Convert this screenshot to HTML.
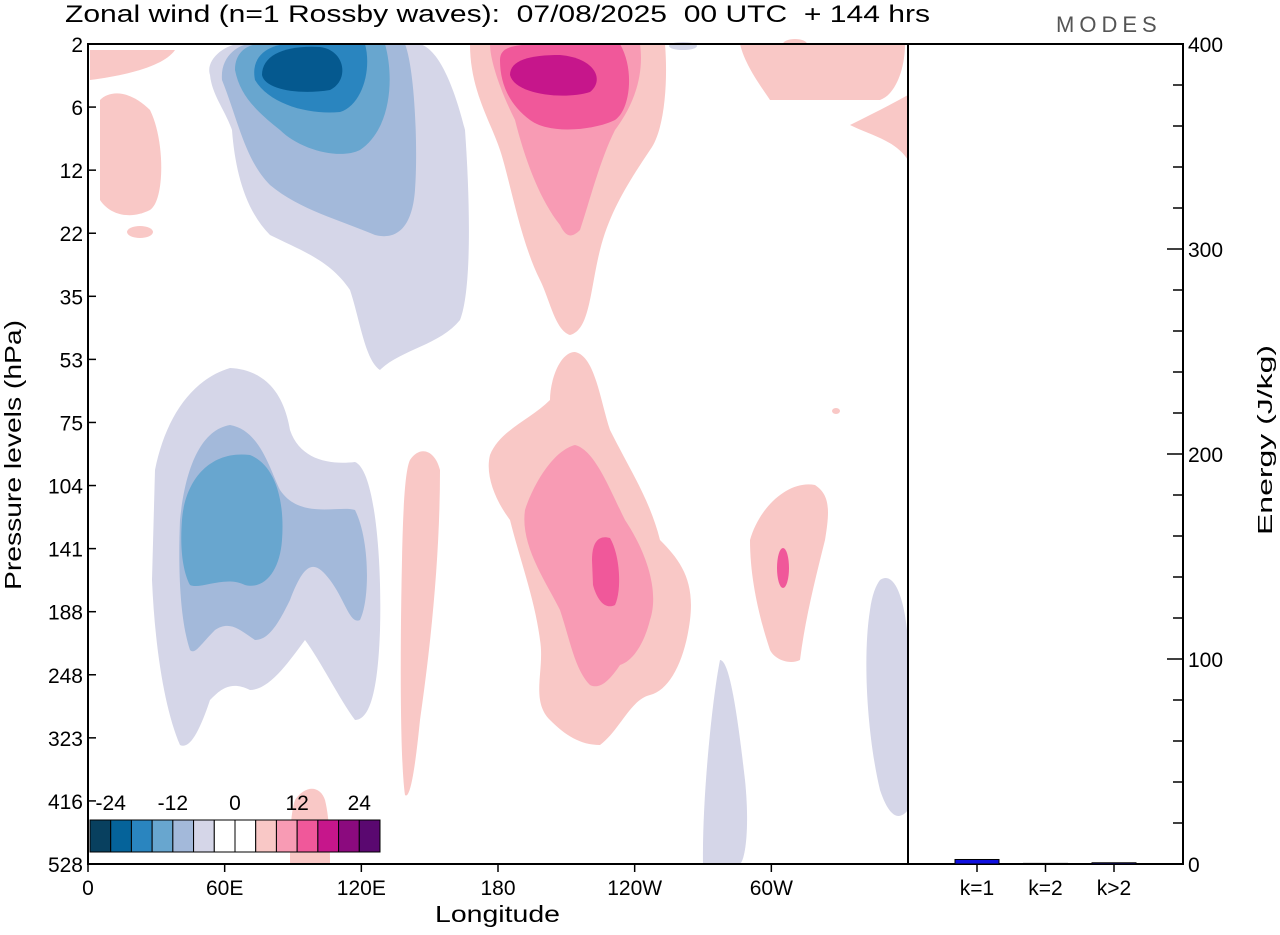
<!DOCTYPE html>
<html><head><meta charset="utf-8"><style>
body{margin:0;background:#fff;font-family:"Liberation Sans",sans-serif;}
svg text{font-family:"Liberation Sans",sans-serif;fill:#000;white-space:pre;}
</style></head><body>
<svg width="1280" height="930" viewBox="0 0 1280 930">
<text x="65" y="22" font-size="24" textLength="865" lengthAdjust="spacingAndGlyphs">Zonal wind (n=1 Rossby waves):  07/08/2025  00 UTC  + 144 hrs</text>
<text x="1056" y="32" font-size="22" style="fill:#555;letter-spacing:5px">MODES</text>
<g>
<path fill="#d5d6e8" d="M210,75 C205,60 225,44 240,44 L420,44 C440,50 455,90 465,130 C470,200 472,290 460,320 C440,345 400,350 380,370 C365,360 360,320 350,290 C330,260 300,250 270,235 C245,210 235,170 232,130 C225,110 212,95 210,75Z"/>
<path fill="#a3b9da" d="M222,80 C220,55 240,44 250,44 L405,44 C415,70 418,150 415,190 C412,230 395,240 375,235 C340,220 300,210 270,185 C245,160 238,120 222,80Z"/>
<path fill="#68a6cf" d="M235,70 C235,50 250,44 260,44 L385,44 C395,80 390,130 360,150 C340,160 300,150 280,130 C255,110 240,95 235,70Z"/>
<path fill="#2a85bf" d="M255,80 C250,55 270,44 290,44 L365,44 C372,70 362,105 340,112 C310,115 270,105 255,80Z"/>
<path fill="#05598f" d="M262,75 C262,55 285,45 320,47 C345,50 350,80 330,90 C300,95 265,90 262,75Z"/>
<path fill="#f9c8c6" d="M470,44 L665,44 C668,80 665,130 650,150 C630,180 610,210 600,250 C590,290 590,330 570,335 C555,330 550,300 540,280 C520,240 510,180 500,150 C490,120 470,90 470,44Z"/>
<path fill="#f89bb4" d="M490,44 L640,44 C645,80 630,110 615,130 C600,160 590,200 580,230 C570,240 565,235 560,225 C540,200 525,160 515,120 C500,90 490,60 490,44Z"/>
<path fill="#f0589a" d="M500,60 C500,44 520,44 560,44 L620,44 C635,70 630,110 615,120 C595,130 550,135 530,120 C510,105 500,85 500,60Z"/>
<path fill="#c6168b" d="M510,75 C510,60 530,55 560,55 C595,58 605,80 590,92 C565,100 515,95 510,75Z"/>
<path fill="#f9c8c6" d="M90,50 L175,50 C165,65 130,75 90,80Z"/>
<path fill="#f9c8c6" d="M100,100 C110,90 130,90 150,110 C165,140 165,200 150,210 C130,220 110,215 100,200Z"/>
<ellipse cx="140" cy="232" rx="13" ry="6" fill="#f9c8c6"/>
<path fill="#f9c8c6" d="M740,44 L905,44 C905,70 895,95 880,100 C850,100 800,100 770,100 C760,85 745,65 740,44Z"/>
<path fill="#f9c8c6" d="M850,125 C870,115 890,105 908,95 L908,160 C895,140 870,135 850,125Z"/>
<ellipse cx="795" cy="44" rx="12" ry="5" fill="#f9c8c6"/>
<ellipse cx="683" cy="46" rx="14" ry="4" fill="#d5d6e8"/>
<path fill="#d5d6e8" d="M155,470 C165,420 190,380 230,368 C270,370 285,400 290,430 C300,460 330,465 355,462 C375,470 382,560 380,630 C378,690 370,720 355,720 C340,700 320,660 305,640 C290,660 270,690 250,690 C230,680 220,690 210,700 C200,730 190,750 180,745 C165,710 155,650 152,580 Z"/>
<path fill="#a3b9da" d="M180,520 C185,470 200,430 230,425 C260,430 270,470 280,490 C300,520 340,505 355,510 C370,540 370,600 360,620 C350,625 345,600 330,580 C315,560 305,560 290,600 C280,620 270,640 255,640 C240,630 230,620 215,630 C200,645 195,655 190,650 C180,620 178,570 180,520Z"/>
<path fill="#68a6cf" d="M182,520 C185,480 210,450 250,455 C275,465 285,500 282,540 C280,570 265,590 245,585 C225,575 200,590 190,585 C182,570 180,545 182,520Z"/>
<path fill="#d5d6e8" d="M720,660 C730,660 738,720 745,780 C750,830 745,860 740,864 L703,864 C702,800 712,700 720,660Z"/>
<path fill="#d5d6e8" d="M880,580 C895,570 905,600 908,640 L908,810 C900,820 890,820 880,790 C868,740 862,660 870,610 C872,595 876,585 880,580Z"/>
<path fill="#f9c8c6" d="M410,460 C420,445 435,450 440,470 C440,560 430,650 420,720 C415,770 410,800 405,795 C400,760 400,650 402,560 C403,510 405,470 410,460Z"/>
<path fill="#f9c8c6" d="M490,455 C500,430 530,420 550,400 C550,380 560,352 575,352 C595,356 600,400 610,430 C630,470 650,500 660,540 C680,560 695,580 690,620 C685,660 670,690 650,695 C630,700 620,730 600,745 C580,745 565,735 550,720 C530,700 545,670 540,640 C535,600 520,560 510,520 C495,500 485,475 490,455Z"/>
<path fill="#f89bb4" d="M525,510 C535,480 555,450 575,445 C595,450 610,490 625,520 C645,550 660,590 650,620 C645,640 635,660 620,665 C610,680 600,690 590,685 C575,670 570,640 560,610 C545,580 520,545 525,510Z"/>
<path fill="#f0589a" d="M592,560 C592,540 600,535 610,538 C620,555 622,590 615,605 C605,610 597,600 593,585Z"/>
<path fill="#f9c8c6" d="M750,540 C760,505 790,480 815,485 C830,495 830,510 825,540 C815,580 805,620 800,660 C790,665 775,660 770,650 C760,620 750,580 750,540Z"/>
<ellipse cx="783" cy="568" rx="6" ry="20" fill="#f0589a"/>
<ellipse cx="836" cy="411" rx="4" ry="3" fill="#f9c8c6"/>
<path fill="#f9c8c6" d="M295,800 C305,785 320,785 325,800 C330,820 330,850 330,864 L290,864 C290,840 290,815 295,800Z"/>
</g>
<g id="colorbar"></g>
<g id="axes"></g>
<g id="bars"></g>
</svg>
<script>
const pressureLabels=["2","6","12","22","35","53","75","104","141","188","248","323","416","528"];
const lonLabels=["0","60E","120E","180","120W","60W"];
const barCategories=["k=1","k=2","k>2"];
const barValues=[2.2,0.3,0.6];
const energyTicks=[0,100,200,300,400];
const cbarColors=["#08405f","#05639a","#2a85bf","#68a6cf","#a3b9da","#d5d6e8","#ffffff","#ffffff","#f9c8c6","#f89bb4","#f0589a","#c6168b","#8b0a7e","#5a0870"];
const cbarLabels=["-24","-12","0","12","24"];
const NS="http://www.w3.org/2000/svg";
function mk(t,a,p,txt){const e=document.createElementNS(NS,t);for(const k in a)e.setAttribute(k,a[k]);if(txt!==undefined)e.textContent=txt;p.appendChild(e);return e;}
const ax=document.getElementById('axes');
const X0=88,X1=908,Y0=44,Y1=864;
const lonX=d=>X0+d*(X1-X0)/360;
const pY=i=>Y0+i*(Y1-Y0)/(pressureLabels.length-1);
const R0=908,R1=1183;
const eY=v=>Y1-v*(Y1-Y0)/400;
let r=mk('rect',{x:X0,y:Y0,width:X1-X0,height:Y1-Y0,fill:'none',stroke:'#000','stroke-width':2},ax);

r=mk('rect',{x:R0,y:Y0,width:R1-R0,height:Y1-Y0,fill:'none',stroke:'#000','stroke-width':2},ax);

pressureLabels.forEach((l,i)=>{const y=pY(i);
 mk('line',{x1:X0,x2:X0+8,y1:y,y2:y,stroke:'#000','stroke-width':1.5},ax);
 const t=mk('text',{x:X0-5,y:y+8,'font-size':21,'text-anchor':'end'},ax,l);
 });
lonLabels.forEach((l,i)=>{const x=lonX(i*60);
 mk('line',{x1:x,x2:x,y1:Y1,y2:Y1+8,stroke:'#000','stroke-width':1.5},ax);
 const t=mk('text',{x:x,y:Y1+31,'font-size':21,'text-anchor':'middle'},ax,l);
 });
let t=mk('text',{x:435,y:922,'font-size':23,textLength:125,lengthAdjust:'spacingAndGlyphs'},ax,'Longitude');

t=mk('text',{x:0,y:0,'font-size':23,textLength:270,lengthAdjust:'spacingAndGlyphs',transform:'translate(21,590) rotate(-90)'},ax,'Pressure levels (hPa)');

for(let v=0;v<=400;v+=20){const y=eY(v);const maj=v%100===0;
 mk('line',{x1:R1,x2:R1-(maj?16:10),y1:y,y2:y,stroke:'#000','stroke-width':1.5},ax);}
energyTicks.forEach(v=>{const tt=mk('text',{x:R1+5,y:eY(v)+8,'font-size':21},ax,String(v));
 });
t=mk('text',{x:0,y:0,'font-size':20,textLength:190,lengthAdjust:'spacingAndGlyphs',transform:'translate(1272,535) rotate(-90)'},ax,'Energy (J/kg)');

const bg=document.getElementById('bars');
const bx=i=>977+i*68.5;
barCategories.forEach((c,i)=>{const x=bx(i);const h=Y1-eY(barValues[i]);
 const b=mk('rect',{x:x-22,y:Y1-h,width:44,height:h,fill:'#1010e0',stroke:'#000','stroke-width':1},bg);
 
 mk('line',{x1:x,x2:x,y1:Y1,y2:Y1+8,stroke:'#000','stroke-width':1.5},bg);
 const l=mk('text',{x:x,y:Y1+31,'font-size':21,'text-anchor':'middle'},bg,c);
 });
const cb=document.getElementById('colorbar');
const cw=290/cbarColors.length;
cbarColors.forEach((c,i)=>{const s=mk('rect',{x:90+i*cw,y:820,width:cw,height:32,fill:c,stroke:'#000','stroke-width':1},cb);
 });
cbarLabels.forEach((l,i)=>{const x=90+cw*(1+i*3);const tt=mk('text',{x:x,y:810,'font-size':21,'text-anchor':'middle'},cb,l);
 });
</script>
</body></html>
